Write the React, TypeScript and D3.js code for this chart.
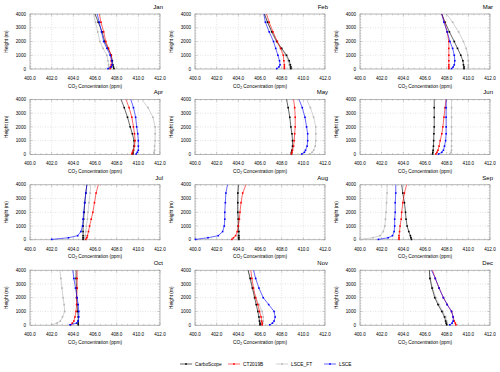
import React from "react";
import * as d3 from "d3";

// profile levels (m) shared by every series
const heights = [30, 150, 300, 600, 1000, 1500, 2000, 2700, 3400, 4000];
const months = ["Jan", "Feb", "Mar", "Apr", "May", "Jun", "Jul", "Aug", "Sep", "Oct", "Nov", "Dec"];
const xTicks = [400, 402, 404, 406, 408, 410, 412];
const yTicks = [0, 1000, 2000, 3000, 4000];
const seriesNames = ["CarboScope", "CT2019B", "LSCE_FT", "LSCE"];

// CO2 (ppm) per month, bottom -> top
const carboScope = [
  [407.75, 407.7, 407.65, 407.6, 407.5, 407.2, 406.9, 406.65, 406.3, 406.0],
  [408.85, 408.85, 408.8, 408.7, 408.45, 408.0, 407.55, 407.1, 406.7, 406.4],
  [409.6, 409.6, 409.55, 409.5, 409.3, 409.0, 408.7, 408.25, 407.85, 407.55],
  [409.5, 409.5, 409.55, 409.6, 409.6, 409.45, 409.25, 409.0, 408.7, 408.4],
  [408.9, 408.9, 408.95, 409.0, 409.0, 408.95, 408.85, 408.75, 408.6, 408.45],
  [406.7, 406.72, 406.75, 406.78, 406.8, 406.82, 406.85, 406.85, 406.85, 406.85],
  [404.9, 404.9, 404.9, 404.9, 404.9, 404.95, 405.0, 405.05, 405.15, 405.25],
  [404.05, 404.05, 404.05, 404.05, 404.0, 404.0, 403.95, 403.95, 403.95, 404.0],
  [404.75, 404.7, 404.65, 404.5, 404.35, 404.25, 404.2, 404.1, 403.95, 403.85],
  [404.45, 404.45, 404.45, 404.45, 404.4, 404.35, 404.3, 404.3, 404.25, 404.25],
  [406.0, 406.0, 405.95, 405.9, 405.8, 405.65, 405.5, 405.3, 405.1, 404.9],
  [408.0, 407.95, 407.9, 407.8, 407.55, 407.2, 406.9, 406.65, 406.45, 406.4],
];
const ct2019b = [
  [407.4, 407.45, 407.5, 407.5, 407.5, 407.25, 407.0, 406.8, 406.55, 406.4],
  [408.25, 408.25, 408.25, 408.2, 408.15, 407.9, 407.6, 407.2, 406.85, 406.6],
  [408.2, 408.2, 408.2, 408.2, 408.2, 408.2, 408.2, 408.05, 407.8, 407.55],
  [409.4, 409.45, 409.55, 409.65, 409.7, 409.65, 409.55, 409.4, 409.15, 408.85],
  [408.9, 408.95, 409.0, 409.1, 409.15, 409.2, 409.25, 409.25, 409.2, 409.1],
  [407.0, 407.1, 407.2, 407.3, 407.4, 407.55, 407.65, 407.75, 407.85, 407.95],
  [405.15, 405.25, 405.3, 405.4, 405.5, 405.65, 405.8, 405.95, 406.1, 406.3],
  [403.4, 403.55, 403.75, 403.9, 404.0, 404.1, 404.15, 404.25, 404.4, 404.7],
  [403.6, 403.6, 403.6, 403.65, 403.7, 403.8, 403.85, 403.95, 404.1, 404.3],
  [403.75, 403.9, 404.05, 404.15, 404.25, 404.3, 404.3, 404.35, 404.35, 404.35],
  [406.2, 406.2, 406.15, 406.1, 405.95, 405.8, 405.6, 405.4, 405.25, 405.15],
  [408.85, 408.8, 408.7, 408.6, 408.45, 408.05, 407.7, 407.3, 406.95, 406.7],
];
const lsceFt = [
  [407.3, 407.3, 407.25, 407.2, 407.1, 406.75, 406.45, 406.25, 406.05, 405.85],
  [408.75, 408.75, 408.7, 408.6, 408.35, 407.9, 407.5, 407.05, 406.7, 406.45],
  [410.0, 410.0, 410.0, 410.0, 409.95, 409.8, 409.55, 409.1, 408.55, 408.0],
  [411.45, 411.45, 411.5, 411.5, 411.55, 411.55, 411.55, 411.35, 410.9, 410.3],
  [410.6, 410.8, 410.95, 411.1, 411.15, 411.15, 411.15, 410.95, 410.65, 410.3],
  [408.3, 408.4, 408.45, 408.45, 408.45, 408.45, 408.45, 408.45, 408.45, 408.45],
  [405.05, 405.05, 405.1, 405.15, 405.2, 405.3, 405.35, 405.45, 405.55, 405.6],
  [403.9, 403.95, 403.95, 403.95, 403.95, 403.95, 403.95, 403.95, 404.0, 404.05],
  [400.0, 401.2, 401.85, 402.15, 402.3, 402.35, 402.4, 402.45, 402.5, 402.5],
  [402.0, 402.5, 402.8, 403.0, 403.2, 403.15, 403.05, 402.95, 402.85, 402.75],
  [406.15, 406.25, 406.3, 406.3, 406.2, 405.9, 405.6, 405.3, 405.05, 404.9],
  [408.1, 408.05, 408.0, 407.9, 407.65, 407.3, 407.0, 406.7, 406.5, 406.4],
];
const lsce = [
  [407.2, 407.5, 407.6, 407.55, 407.4, 407.1, 406.8, 406.6, 406.4, 406.2],
  [407.55, 407.75, 407.85, 407.8, 407.65, 407.45, 407.25, 406.85, 406.5, 406.35],
  [408.45, 408.6, 408.7, 408.75, 408.7, 408.55, 408.3, 408.05, 407.75, 407.55],
  [409.8, 409.9, 410.0, 410.0, 410.0, 409.95, 409.85, 409.75, 409.55, 409.3],
  [409.85, 410.1, 410.2, 410.35, 410.4, 410.4, 410.3, 410.15, 409.9, 409.6],
  [407.25, 407.55, 407.7, 407.8, 407.9, 407.95, 407.95, 407.95, 407.95, 407.95],
  [402.0, 403.55, 404.4, 404.7, 404.85, 404.9, 404.95, 405.05, 405.15, 405.25],
  [400.05, 401.2, 402.15, 402.55, 402.7, 402.75, 402.75, 402.8, 402.85, 403.0],
  [401.7, 402.6, 403.0, 403.15, 403.2, 403.2, 403.25, 403.25, 403.3, 403.3],
  [403.7, 404.3, 404.45, 404.5, 404.5, 404.45, 404.35, 404.2, 404.05, 403.95],
  [406.9, 407.15, 407.3, 407.4, 407.3, 406.8, 406.3, 405.9, 405.6, 405.4],
  [408.3, 408.5, 408.6, 408.6, 408.45, 408.05, 407.7, 407.3, 406.95, 406.6],
];

const allSeries = [carboScope, ct2019b, lsceFt, lsce];
const colors = ["#000000", "#ff0000", "#b4b4b4", "#0000ff"];
const drawOrder = [2, 0, 1, 3];

const W = 500, H = 372;
const pw = 130, ph = 55;
const font = "Liberation Sans, Arial, sans-serif";
const fmt = d3.format(".1f");

function Panel({ idx }: { idx: number }) {
  const col = idx % 3, row = Math.floor(idx / 3);
  const left = col * 165 + 30;
  const top = 14 + row * 85.4;
  const x = d3.scaleLinear().domain([400, 412]).range([0, pw]);
  const y = d3.scaleLinear().domain([0, 4000]).range([ph, 0]);
  const line = d3.line<number>().x(d => x(d)).y((_, i) => y(heights[i]));
  const xMinor = d3.range(400, 412.01, 0.5);
  const yMinor = d3.range(0, 4001, 200);

  return (
    <g transform={`translate(${left},${top})`}>
      <text x={pw + 3} y={-5} fontSize={6} textAnchor="end">{months[idx]}</text>
      {xTicks.slice(1, -1).map(t => (
        <line key={"gx" + t} x1={x(t)} x2={x(t)} y1={0} y2={ph} stroke="#c8c8c8" strokeWidth={0.5} strokeDasharray="1,1.5" />
      ))}
      {yTicks.slice(1, -1).map(t => (
        <line key={"gy" + t} x1={0} x2={pw} y1={y(t)} y2={y(t)} stroke="#c8c8c8" strokeWidth={0.5} strokeDasharray="1,1.5" />
      ))}
      {xMinor.map(t => {
        const major = Math.abs(t % 2) < 1e-6;
        const len = major ? 2.5 : 1.3;
        return (
          <g key={"tx" + t}>
            <line x1={x(t)} x2={x(t)} y1={ph} y2={ph - len} stroke="#888" strokeWidth={0.4} />
            <line x1={x(t)} x2={x(t)} y1={0} y2={len} stroke="#888" strokeWidth={0.4} />
          </g>
        );
      })}
      {yMinor.map(t => {
        const major = t % 1000 === 0;
        const len = major ? 2.5 : 1.3;
        return (
          <g key={"ty" + t}>
            <line x1={0} x2={len} y1={y(t)} y2={y(t)} stroke="#888" strokeWidth={0.4} />
            <line x1={pw} x2={pw - len} y1={y(t)} y2={y(t)} stroke="#888" strokeWidth={0.4} />
          </g>
        );
      })}
      <rect x={0} y={0} width={pw} height={ph} fill="none" stroke="#888" strokeWidth={0.6} />
      {drawOrder.map(s => {
        const vals = allSeries[s][idx];
        return (
          <g key={s}>
            <path d={line(vals) || ""} fill="none" stroke={colors[s]} strokeWidth={0.6} />
            {vals.slice(0, -1).map((v, i) => (
              <rect key={i} x={x(v) - 0.8} y={y(heights[i]) - 0.8} width={1.6} height={1.6} fill={colors[s]} />
            ))}
          </g>
        );
      })}
      {xTicks.map(t => (
        <text key={"lx" + t} x={x(t)} y={ph + 11} fontSize={4.6} textAnchor="middle">{fmt(t)}</text>
      ))}
      {yTicks.map(t => (
        <text key={"ly" + t} x={-4} y={y(t)} dy="0.35em" fontSize={4.6} textAnchor="end">{t}</text>
      ))}
      <text x={pw / 2} y={ph + 18.5} fontSize={4.8} textAnchor="middle">
        CO<tspan fontSize={3.4} dy={1.2}>2</tspan><tspan dy={-1.2}> Concentration (ppm)</tspan>
      </text>
      <text transform={`translate(-22,${ph / 2}) rotate(-90)`} fontSize={4.8} textAnchor="middle">Height (m)</text>
    </g>
  );
}

function Legend() {
  const legendX = d3.scaleBand<number>().domain([0, 1, 2, 3]).range([180, 372]);
  return (
    <g transform="translate(0,364)">
      {seriesNames.map((name, i) => {
        const x0 = legendX(i) || 0;
        return (
          <g key={name}>
            <line x1={x0} x2={x0 + 12} y1={0} y2={0} stroke={colors[i]} strokeWidth={0.6} />
            <rect x={x0 + 5.2} y={-0.8} width={1.6} height={1.6} fill={colors[i]} />
            <text x={x0 + 15} y={0} dy="0.35em" fontSize={4.8}>{name}</text>
          </g>
        );
      })}
    </g>
  );
}

export default function App() {
  return (
    <svg width={W} height={H} style={{ position: "absolute", left: 0, top: 0, background: "#fff" }} fontFamily={font}>
      {months.map((_, i) => <Panel key={i} idx={i} />)}
      <Legend />
    </svg>
  );
}
